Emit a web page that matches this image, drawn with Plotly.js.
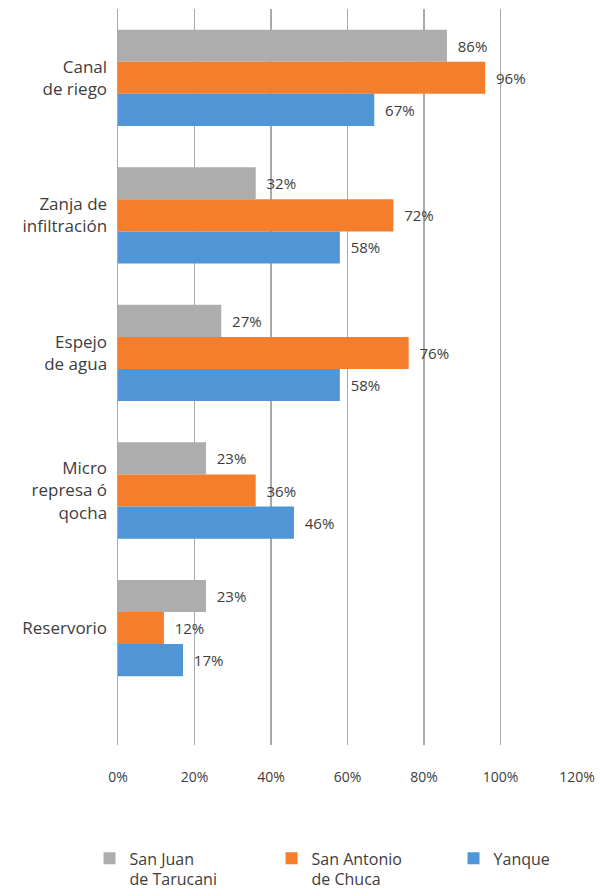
<!DOCTYPE html>
<html>
<head>
<meta charset="utf-8">
<script src="https://cdn.plot.ly/plotly-3.0.1.min.js"></script>
<style>html,body{margin:0;padding:0;background:#fff;}#chart{width:600px;height:890px;}</style>
</head>
<body>
<div id="chart"></div>
<script>
const categories = ["Canal<br>de riego", "Zanja de<br>infiltración", "Espejo<br>de agua", "Micro<br>represa ó<br>qocha", "Reservorio"];
const seriesNames = ["San Juan<br>de Tarucani", "San Antonio<br>de Chuca", "Yanque"];
const sanJuan = [0.86, 0.36, 0.27, 0.23, 0.23];
const sanAntonio = [0.96, 0.72, 0.76, 0.36, 0.12];
const yanque = [0.67, 0.58, 0.58, 0.46, 0.17];
const sanJuanLabels = ["86%", "32%", "27%", "23%", "23%"];
const sanAntonioLabels = ["96%", "72%", "76%", "36%", "12%"];
const yanqueLabels = ["67%", "58%", "58%", "46%", "17%"];
const xTickVals = [0, 0.2, 0.4, 0.6, 0.8, 1.0, 1.2];
const xTickText = ["0%", "20%", "40%", "60%", "80%", "100%", "120%"];
const colors = ["#adadae", "#f47e2c", "#5096d6"];

const pad = "\u00a0\u00a0";
function mk(vals, labels, name, color) {
  return {
    type: "bar", orientation: "h",
    x: vals, y: categories, name: name,
    marker: {color: color},
    text: labels.map(l => pad + l),
    textposition: "outside",
    textfont: {size: 15, color: "#3d3d3d"},
    cliponaxis: false,
    hoverinfo: "skip"
  };
}
const data = [
  mk(sanJuan, sanJuanLabels, seriesNames[0], colors[0]),
  mk(sanAntonio, sanAntonioLabels, seriesNames[1], colors[1]),
  mk(yanque, yanqueLabels, seriesNames[2], colors[2])
];
const layout = {
  width: 600, height: 890,
  margin: {l: 118, r: 23, t: 9, b: 145, autoexpand: false},
  paper_bgcolor: "#fff", plot_bgcolor: "#fff",
  font: {family: "Open Sans, sans-serif", color: "#3d3d3d"},
  barmode: "group", bargap: 0.3, bargroupgap: 0,
  showlegend: true,
  xaxis: {
    range: [0, 1.2], tickvals: xTickVals, ticktext: xTickText,
    showgrid: true, gridcolor: "#a9a9a9", gridwidth: 1.5,
    zeroline: false, showline: false, ticks: "",
    ticklabelstandoff: 22,
    tickfont: {size: 14, color: "#3d3d3d"}, fixedrange: true
  },
  yaxis: {
    type: "category", range: [4.85, -0.5],
    showgrid: false, zeroline: false, showline: true,
    linecolor: "#a9a9a9", linewidth: 1.5, ticks: "",
    ticklabelstandoff: 6,
    tickfont: {size: 17, color: "#3d3d3d"}, fixedrange: true
  },
  legend: {
    orientation: "h", x: -0.062, xanchor: "left", y: -0.131, yanchor: "top",
    traceorder: "normal", valign: "top",
    entrywidth: 137, entrywidthmode: "pixels",
    font: {size: 16, color: "#3d3d3d"}
  }
};
Plotly.newPlot("chart", data, layout, {displayModeBar: false, staticPlot: true});
</script>
</body>
</html>
